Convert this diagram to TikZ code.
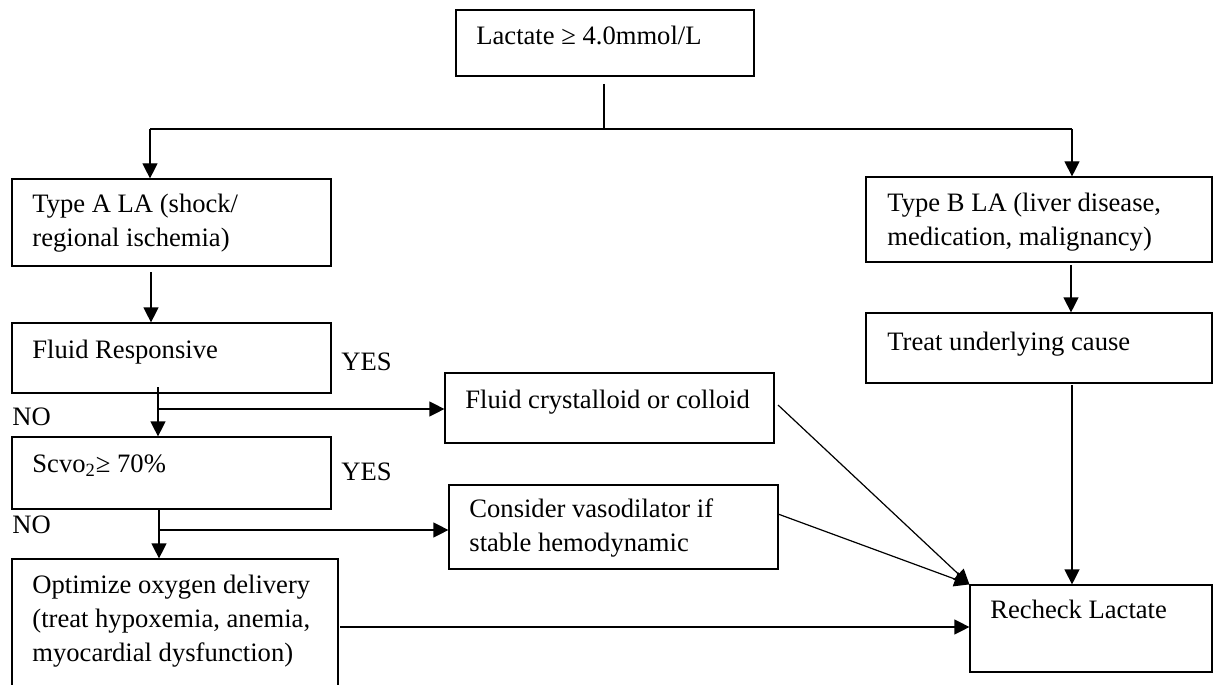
\documentclass[tikz,border=0pt]{standalone}
\usepackage{fontspec}
\setmainfont{Liberation Serif}
\usetikzlibrary{fit,arrows.meta}
\newcommand{\mlines}[1]{\begin{tabular}[t]{@{}l@{}}#1\end{tabular}}
\begin{document}
\begin{tikzpicture}[x=0.5pt,y=-0.5pt,
  box/.style={draw, line width=0.6pt, inner sep=0pt},
  txt/.style={anchor=base west, inner sep=0pt, font=\fontsize{13.3pt}{17pt}\selectfont},
  conn/.style={line width=0.6pt},
  arr/.style={line width=0.6pt, -{Triangle[length=7.5pt,width=7.5pt]}}]
\useasboundingbox (0,0) rectangle (1213,684);
% boxes
\node[box, fit={(456,10) (754,76)}] (L) {};
\node[box, fit={(12,179) (331,266)}] (A) {};
\node[box, fit={(866,177) (1212,262)}] (B) {};
\node[box, fit={(12,323) (331,393)}] (F) {};
\node[box, fit={(866,313) (1212,383)}] (T) {};
\node[box, fit={(445,373) (774,443)}] (C) {};
\node[box, fit={(12,437) (331,509)}] (S) {};
\node[box, fit={(449,485) (778,569)}] (V) {};
\node[box, fit={(12,559) (338,700)}] (O) {};
\node[box, fit={(970,585) (1212,672)}] (R) {};
% texts
\node[txt] (Lt) at (476,45) {Lactate ≥ 4.0mmol/L};
\node[txt] (At) at (32,213) {\mlines{Type A LA (shock/\\regional ischemia)}};
\node[txt] (Bt) at (887,212) {\mlines{Type B LA (liver disease,\\medication, malignancy)}};
\node[txt] (Ft) at (32,358) {Fluid Responsive};
\node[txt] (Tt) at (887,350) {Treat underlying cause};
\node[txt] (Ct) at (465,408) {Fluid crystalloid or colloid};
\node[txt] (St) at (32,472) {Scvo\textsubscript{2}≥ 70\%};
\node[txt] (Vt) at (469,517) {\mlines{Consider vasodilator if\\stable hemodynamic}};
\node[txt] (Ot) at (32,593) {\mlines{Optimize oxygen delivery\\(treat hypoxemia, anemia,\\myocardial dysfunction)}};
\node[txt] (Rt) at (990,618) {Recheck Lactate};
% labels
\node[txt] (y1) at (341,370) {YES};
\node[txt] (y2) at (341,480) {YES};
\node[txt] (n1) at (12,425) {NO};
\node[txt] (n2) at (12,533) {NO};
% connectors
\coordinate (top) at (604,84);
\coordinate (busM) at (604,129);
\coordinate (busL) at (150,129);
\coordinate (busR) at (1072,129);
\draw[conn] (top) -- (busM);
\draw[conn] (busL) -- (busR);
\draw[arr] (busL) -- (busL |- A.north);
\draw[arr] (busR) -- (busR |- B.north);
\coordinate (a1) at (151,272);
\draw[arr] (a1) -- (a1 |- F.north);
\coordinate (b1) at (1071,265);
\draw[arr] (b1) -- (b1 |- T.north);
\coordinate (f1) at (158,387);
\coordinate (f2) at (158,409);
\draw[arr] (f1) -- (f1 |- S.north);
\draw[arr] (f2) -- (f2 -| C.west);
\coordinate (s1) at (159,509);
\coordinate (s2) at (159,530);
\draw[arr] (s1) -- (s1 |- O.north);
\draw[arr] (s2) -- (s2 -| V.west);
\coordinate (o1) at (340,627);
\draw[arr] (o1) -- (o1 -| R.west);
\coordinate (c1) at (778,405);
\draw[arr] (c1) -- (R.north west);
\coordinate (v1) at (778,514);
\draw[arr] (v1) -- (R.north west);
\coordinate (t1) at (1072,385);
\draw[arr] (t1) -- (t1 |- R.north);
\end{tikzpicture}
\end{document}
